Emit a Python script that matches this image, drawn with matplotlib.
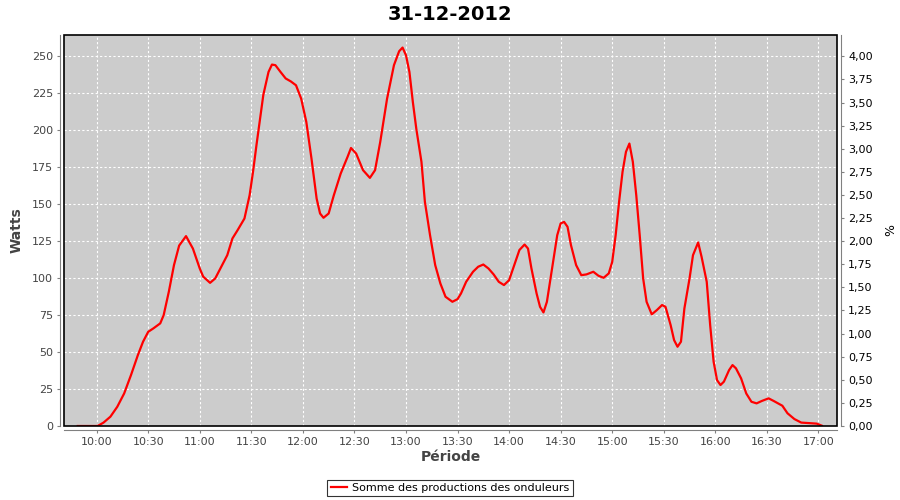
import numpy as np
import pandas as pd
import matplotlib
matplotlib.use("Agg")
import matplotlib.pyplot as plt
from matplotlib import dates, patches
from matplotlib.ticker import FuncFormatter, MultipleLocator

day = "2012-12-31"
title = "31-12-2012"
series_name = "Somme des productions des onduleurs"

times = ["09:49", "09:55", "10:00", "10:01", "10:04", "10:08", "10:12", "10:16", "10:20", "10:24",
         "10:27", "10:30", "10:33", "10:37", "10:39", "10:42", "10:45", "10:48", "10:52", "10:56",
         "11:00", "11:02", "11:06", "11:09", "11:12", "11:16", "11:19", "11:22", "11:26", "11:29",
         "11:31", "11:33", "11:35", "11:37", "11:40", "11:42", "11:44", "11:47", "11:50", "11:53", "11:56",
         "11:59", "12:02", "12:05", "12:08", "12:10", "12:12", "12:15", "12:18", "12:22", "12:26",
         "12:28", "12:31", "12:35", "12:39", "12:42", "12:45", "12:49", "12:53", "12:56", "12:58",
         "13:00", "13:02", "13:04", "13:06", "13:09", "13:11", "13:14", "13:17", "13:20", "13:23",
         "13:27", "13:30", "13:32", "13:35", "13:39", "13:42", "13:45", "13:48", "13:51", "13:54",
         "13:57", "14:00", "14:03", "14:06", "14:09", "14:11", "14:13", "14:16", "14:18", "14:20",
         "14:22", "14:25", "14:28", "14:30", "14:32", "14:34", "14:36", "14:39", "14:42", "14:45",
         "14:49", "14:52", "14:55", "14:58", "15:00", "15:02", "15:04", "15:06", "15:08", "15:10",
         "15:12", "15:14", "15:16", "15:18", "15:20", "15:23", "15:26", "15:29", "15:31", "15:34",
         "15:36", "15:38", "15:40", "15:42", "15:45", "15:47", "15:50", "15:52", "15:55", "15:57",
         "15:59", "16:01", "16:03", "16:05", "16:08", "16:10", "16:12", "16:15", "16:18", "16:21",
         "16:24", "16:27", "16:31", "16:34", "16:39", "16:42", "16:46", "16:50", "16:56", "16:59",
         "17:02"]

watts = [0, 0, 0, 0.3, 2.3, 6.3, 13, 22, 34.5, 48,
         57, 63.7, 66, 69.4, 75, 90.8, 108.8, 122, 128.4, 120,
         106.5, 101, 96.8, 99.8, 106.5, 115.5, 126.8, 132.4, 140.3, 156,
         172, 190, 207, 224, 239.4, 244.4, 244, 239.4, 235, 233, 230.4,
         221.4, 205.6, 180.9, 153.8, 143.7, 140.8, 143.7, 156, 170.7, 182,
         188, 184.2, 173, 167.8, 173, 192, 221.4, 244, 253.4, 255.9,
         250.7, 239.4, 219, 201, 178.6, 151.6, 129, 108.8, 96.4, 87.4,
         84, 85.8, 89.6, 97.5, 104.3, 107.7, 109.2, 106.5, 102.5, 97.5,
         95.3, 98.6, 108.8, 119, 122.7, 120, 106.5, 89.6, 80.6, 76.8,
         84, 106.5, 129, 137, 138, 134.7, 122.3, 108.8, 102, 102.5,
         104.3, 101.6, 100.2, 103.2, 111, 129, 151.6, 171.8, 185.4, 191,
         178.6, 156, 129, 99.8, 84, 75.5, 78.4, 81.8, 80.6, 68.2,
         58.1, 53.6, 57, 79.5, 99.8, 115.5, 124.1, 114.4, 97.5, 68.2,
         43.5, 31, 27.7, 30, 37.8, 41.2, 39, 32.2, 22, 16.4,
         15.3, 16.9, 18.7, 16.9, 13.7, 8.6, 4.7, 2.3, 1.8, 1.6,
         0.2]

watt_ticks = [0, 25, 50, 75, 100, 125, 150, 175, 200, 225, 250]
pct_ticks = [0, 0.25, 0.5, 0.75, 1.0, 1.25, 1.5, 1.75, 2.0, 2.25, 2.5, 2.75, 3.0, 3.25, 3.5, 3.75, 4.0]
watts_per_pct = 62.5

t = pd.to_datetime([day + " " + s for s in times])

fig = plt.figure(figsize=(9, 5), dpi=100)
ax = fig.add_axes([64 / 900, 74 / 500, 773 / 900, 391 / 500])
ax.set_facecolor("#cccccc")

line, = ax.plot(t, watts, color="red", linewidth=1.6, label=series_name, zorder=3)

ymax = 264.4
ax.set_ylim(0, ymax)
ax.set_xlim(pd.Timestamp(day + " 09:41:00"), pd.Timestamp(day + " 17:10:48"))
ax.set_yticks(watt_ticks)
ax.xaxis.set_major_locator(dates.MinuteLocator(byminute=[0, 30]))
ax.xaxis.set_major_formatter(dates.DateFormatter("%H:%M"))

ax.grid(True, color="white", linestyle=(0, (2, 2)), linewidth=0.8)
ax.set_axisbelow(True)

grey = "#808080"
for side in ["top", "right"]:
    ax.spines[side].set_visible(False)
for side in ["left", "bottom"]:
    ax.spines[side].set_position(("outward", 3))
    ax.spines[side].set_color(grey)
ax.tick_params(axis="both", direction="out", length=2, width=0.8, color=grey,
               labelsize=8, labelcolor="#444444", pad=3)

ax.add_patch(patches.Rectangle((0, 0), 1, 1, transform=ax.transAxes, fill=False,
                               edgecolor="black", linewidth=1.2, zorder=5, clip_on=False))

ax2 = ax.twinx()
ax2.set_ylim(0, ymax / watts_per_pct)
ax2.set_yticks(pct_ticks)
ax2.yaxis.set_major_formatter(FuncFormatter(lambda v, p: ("%.2f" % v).replace(".", ",")))
for side in ["top", "left", "bottom"]:
    ax2.spines[side].set_visible(False)
ax2.spines["right"].set_position(("outward", 3))
ax2.spines["right"].set_color(grey)
ax2.tick_params(axis="y", direction="out", length=2, width=0.8, color=grey,
                labelsize=8, labelcolor="black", pad=3)

ax.set_ylabel("Watts", fontsize=10, fontweight="bold", color="#444444", labelpad=6)
ax.set_xlabel("Période", fontsize=10, fontweight="bold", color="#444444", labelpad=2)
ax2.set_ylabel("%", fontsize=9, color="black", labelpad=8)

fig.text(0.5, 1 - 14 / 500, title, ha="center", va="center", fontsize=14, fontweight="bold")

leg = fig.legend(handles=[line], loc="center", bbox_to_anchor=(0.5, 1 - 488 / 500),
                 fontsize=8, frameon=True, fancybox=False, handlelength=1.5,
                 borderpad=0.3, handletextpad=0.4, borderaxespad=0)
leg.get_frame().set_edgecolor("black")
leg.get_frame().set_linewidth(0.8)

fig.savefig("out.png", dpi=100)
